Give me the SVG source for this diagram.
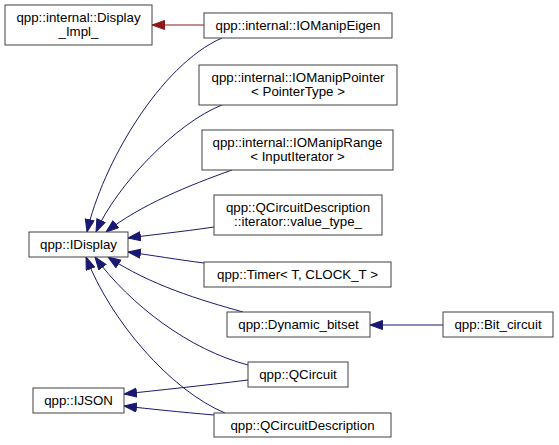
<svg xmlns="http://www.w3.org/2000/svg" width="559" height="445" viewBox="0 0 559 445">
<style>
.n rect{fill:#fff;stroke:#404040;stroke-width:1}
.n text{font-family:"Liberation Sans",Arial,sans-serif;font-size:13.3px;fill:#000;text-anchor:middle}
.e{fill:none;stroke:#191970;stroke-width:1}
.r{fill:none;stroke:#8b1a1a;stroke-width:1}
</style>
<defs>
<marker id="ab" markerUnits="userSpaceOnUse" markerWidth="14" markerHeight="11" refX="13" refY="5" orient="auto"><path d="M0.5,0.5 L13,5 L0.5,9.5 z" fill="#191970" stroke="#191970"/></marker>
<marker id="ar" markerUnits="userSpaceOnUse" markerWidth="14" markerHeight="11" refX="13" refY="5" orient="auto"><path d="M0.5,0.5 L13,5 L0.5,9.5 z" fill="#8b1a1a" stroke="#8b1a1a"/></marker>
</defs>
<rect width="559" height="445" fill="#fff"/>
<g id="edges">
<path class="r" marker-end="url(#ar)" d="M204,25 L152,25"/>
<path class="e" marker-end="url(#ab)" d="M222,38 C160,65 102,165 87,232"/>
<path class="e" marker-end="url(#ab)" d="M222,105 C176,123 116,186 96,232"/>
<path class="e" marker-end="url(#ab)" d="M232,170 C190,185 140,205 106,232"/>
<path class="e" marker-end="url(#ab)" d="M214,227 C180,232 150,235 128,238"/>
<path class="e" marker-end="url(#ab)" d="M204,263 C180,260 150,255 128,252"/>
<path class="e" marker-end="url(#ab)" d="M243,312 C200,300 150,285 108,257"/>
<path class="e" marker-end="url(#ab)" d="M248,365 C190,350 130,305 95,257"/>
<path class="e" marker-end="url(#ab)" d="M225,413 C170,390 110,320 86,257"/>
<path class="e" marker-end="url(#ab)" d="M248,380 C200,386 160,390 124,394"/>
<path class="e" marker-end="url(#ab)" d="M214,415 C180,412 150,409 124,406"/>
<path class="e" marker-end="url(#ab)" d="M443,325 L370,325"/>
</g>
<g id="n_display_impl" class="n"><rect x="5" y="5" width="147" height="40"/><text x="78.5" y="22">qpp::internal::Display</text><text x="78.5" y="36">_Impl_</text></g>
<g id="n_iomanipeigen" class="n"><rect x="204" y="13" width="188" height="25"/><text x="298" y="30">qpp::internal::IOManipEigen</text></g>
<g id="n_iomanippointer" class="n"><rect x="199" y="65" width="198" height="40"/><text x="298" y="82">qpp::internal::IOManipPointer</text><text x="298" y="96">&lt; PointerType &gt;</text></g>
<g id="n_iomaniprange" class="n"><rect x="202" y="130" width="191" height="40"/><text x="297.5" y="147">qpp::internal::IOManipRange</text><text x="297.5" y="161">&lt; InputIterator &gt;</text></g>
<g id="n_value_type" class="n"><rect x="214" y="195" width="168" height="40"/><text x="298" y="212">qpp::QCircuitDescription</text><text x="298" y="226">::iterator::value_type_</text></g>
<g id="n_timer" class="n"><rect x="204" y="262" width="187" height="25"/><text x="297.5" y="279">qpp::Timer&lt; T, CLOCK_T &gt;</text></g>
<g id="n_idisplay" class="n"><rect x="29" y="232" width="99" height="25"/><text x="78.5" y="249">qpp::IDisplay</text></g>
<g id="n_dynamic_bitset" class="n"><rect x="227" y="312" width="143" height="25"/><text x="298.5" y="329">qpp::Dynamic_bitset</text></g>
<g id="n_bit_circuit" class="n"><rect x="443" y="312" width="110" height="25"/><text x="498" y="329">qpp::Bit_circuit</text></g>
<g id="n_qcircuit" class="n"><rect x="248" y="362" width="100" height="25"/><text x="298" y="379">qpp::QCircuit</text></g>
<g id="n_qcircuitdescription" class="n"><rect x="214" y="413" width="177" height="24"/><text x="302.5" y="430">qpp::QCircuitDescription</text></g>
<g id="n_ijson" class="n"><rect x="33" y="388" width="91" height="25"/><text x="78.5" y="405">qpp::IJSON</text></g>
</svg>
